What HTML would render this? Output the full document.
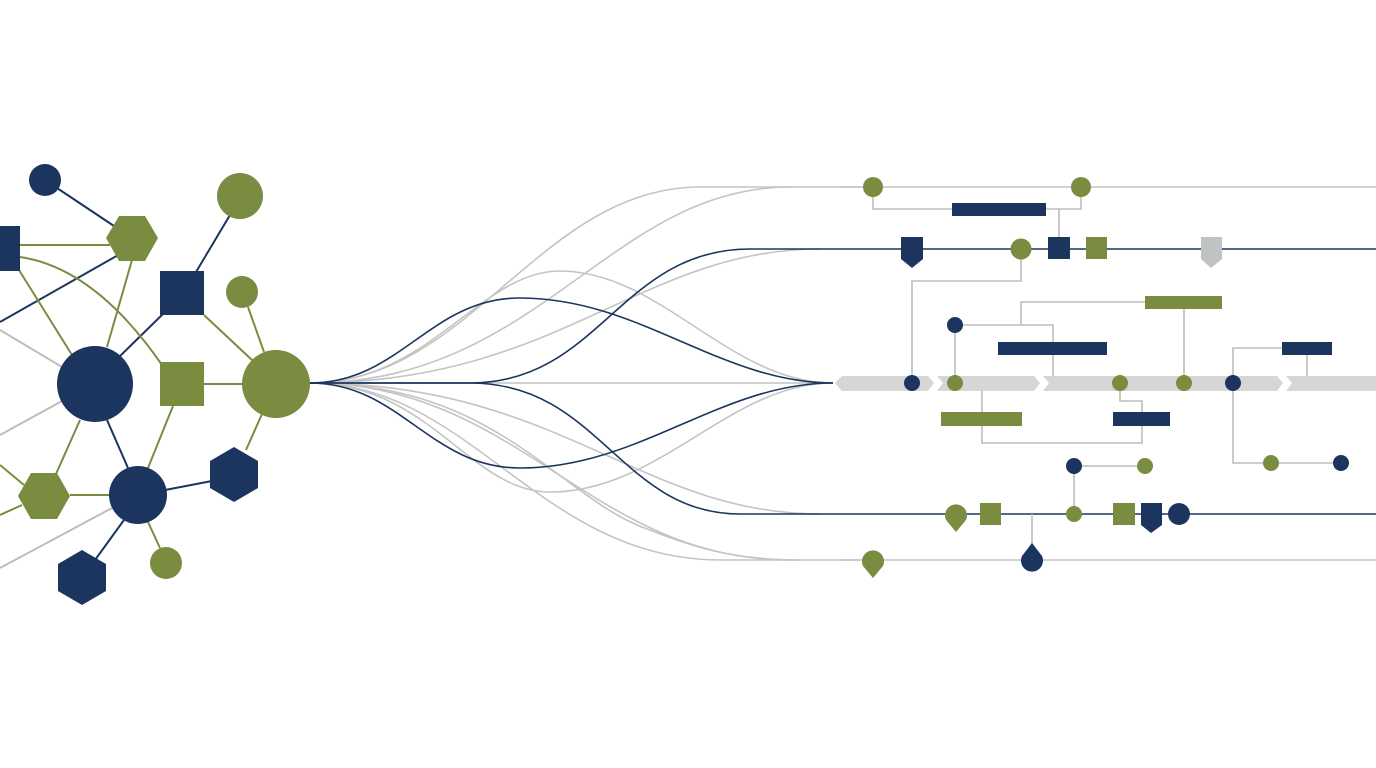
<!DOCTYPE html>
<html><head><meta charset="utf-8"><style>html,body{margin:0;padding:0;background:#fff;}svg{display:block}</style></head>
<body>
<svg width="1376" height="768" viewBox="0 0 1376 768" xmlns="http://www.w3.org/2000/svg">
<rect width="1376" height="768" fill="#fff"/>
<g fill="none" stroke-width="2">
<line x1="0" y1="330" x2="62" y2="367" stroke="#bdbdbd"/>
<line x1="0" y1="435" x2="62" y2="401" stroke="#bdbdbd"/>
<line x1="0" y1="568" x2="112" y2="508" stroke="#bdbdbd"/>
<line x1="45" y1="180" x2="120" y2="230" stroke="#1c355e"/>
<line x1="0" y1="322" x2="120" y2="254" stroke="#1c355e"/>
<line x1="196" y1="272" x2="230" y2="215" stroke="#1c355e"/>
<line x1="165" y1="312" x2="118" y2="358" stroke="#1c355e"/>
<line x1="107" y1="420" x2="128" y2="468" stroke="#1c355e"/>
<line x1="165" y1="490" x2="212" y2="481" stroke="#1c355e"/>
<line x1="124" y1="520" x2="95" y2="560" stroke="#1c355e"/>
<line x1="20" y1="245" x2="110" y2="245" stroke="#7a8c3f"/>
<line x1="14" y1="262" x2="72" y2="355" stroke="#7a8c3f"/>
<line x1="132" y1="260" x2="107" y2="347" stroke="#7a8c3f"/>
<path d="M20,257 Q95,268 162,365" stroke="#7a8c3f"/>
<line x1="204" y1="315" x2="252" y2="360" stroke="#7a8c3f"/>
<line x1="248" y1="307" x2="264" y2="352" stroke="#7a8c3f"/>
<line x1="204" y1="384" x2="245" y2="384" stroke="#7a8c3f"/>
<line x1="262" y1="414" x2="246" y2="450" stroke="#7a8c3f"/>
<line x1="173" y1="406" x2="148" y2="468" stroke="#7a8c3f"/>
<line x1="80" y1="420" x2="56" y2="474" stroke="#7a8c3f"/>
<line x1="70" y1="495" x2="110" y2="495" stroke="#7a8c3f"/>
<line x1="0" y1="465" x2="24" y2="485" stroke="#7a8c3f"/>
<line x1="0" y1="515" x2="22" y2="505" stroke="#7a8c3f"/>
<line x1="148" y1="522" x2="160" y2="548" stroke="#7a8c3f"/>
</g>
<circle cx="45" cy="180" r="16" fill="#1c355e"/>
<polygon points="106,238 119,216 145,216 158,238 145,261 119,261" fill="#7a8c3f"/>
<rect x="0" y="226" width="20" height="45" fill="#1c355e"/>
<circle cx="240" cy="196" r="23" fill="#7a8c3f"/>
<rect x="160" y="271" width="44" height="44" fill="#1c355e"/>
<circle cx="242" cy="292" r="16" fill="#7a8c3f"/>
<circle cx="95" cy="384" r="38" fill="#1c355e"/>
<rect x="160" y="362" width="44" height="44" fill="#7a8c3f"/>
<circle cx="276" cy="384" r="34" fill="#7a8c3f"/>
<polygon points="234,447 258,461 258,488 234,502 210,488 210,461" fill="#1c355e"/>
<circle cx="138" cy="495" r="29" fill="#1c355e"/>
<polygon points="18,496 31,473 57,473 70,496 57,519 31,519" fill="#7a8c3f"/>
<polygon points="82,550 106,564 106,591 82,605 58,591 58,564" fill="#1c355e"/>
<circle cx="166" cy="563" r="16" fill="#7a8c3f"/>
<g fill="none" stroke-width="1.6">
<g stroke="#c4c4c4">
<path d="M310,383 C470,383 540,187 700,187 L860,187"/>
<path d="M310,383 C540,383 610,187 790,187"/>
<path d="M310,383 C560,383 640,249 820,249"/>
<path d="M310,383 C430,383 480,271 560,271 C660,271 730,383 833,383"/>
<path d="M310,383 C430,383 470,492 550,492 C660,492 730,383 833,383"/>
<path d="M310,383 L833,383"/>
<path d="M310,383 C560,383 640,514 820,514"/>
<path d="M310,383 C470,383 540,560 720,560 L860,560"/>
<path d="M310,383 C520,383 590,560 790,560"/>
<path d="M310,383 C500,383 560,500 650,530 C700,550 740,560 800,560"/>
</g>
<g stroke="#1c355e">
<path d="M310,383 C400,383 430,298 520,298 C640,298 720,383 833,383"/>
<path d="M310,383 C400,383 430,468 520,468 C640,468 720,383 833,383"/>
<path d="M310,383 L470,383 C600,383 620,249 750,249 L1376,249"/>
<path d="M310,383 L470,383 C600,383 620,514 740,514 L1376,514"/>
</g>
</g>
<line x1="840" y1="187" x2="1376" y2="187" stroke="#c4c4c4" stroke-width="1.6"/>
<line x1="840" y1="560" x2="1376" y2="560" stroke="#c4c4c4" stroke-width="1.6"/>
<polygon points="835,383 842,376 928,376 934,383 928,391 842,391" fill="#d6d6d6"/>
<polygon points="937,376 1034,376 1040,383 1034,391 937,391 943,383" fill="#d6d6d6"/>
<polygon points="1043,376 1277,376 1283,383 1277,391 1043,391 1049,383" fill="#d6d6d6"/>
<polygon points="1286,376 1376,376 1376,391 1286,391 1292,383" fill="#d6d6d6"/>
<g fill="none" stroke="#bdbdbd" stroke-width="1.6">
<polyline points="873,195 873,209 1081,209 1081,195"/>
<line x1="1059" y1="209" x2="1059" y2="237"/>
<polyline points="1021,259 1021,281 912,281 912,383"/>
<polyline points="1145,302 1021,302 1021,325"/>
<polyline points="955,325 1053,325 1053,376"/>
<line x1="955" y1="325" x2="955" y2="383"/>
<line x1="1184" y1="309" x2="1184" y2="383"/>
<polyline points="982,391 982,443 1142,443 1142,401 1120,401 1120,383"/>
<polyline points="1233,383 1233,463 1341,463"/>
<polyline points="1233,383 1233,348 1282,348"/>
<line x1="1307" y1="355" x2="1307" y2="376"/>
<polyline points="1145,466 1074,466 1074,514"/>
<line x1="1032" y1="514" x2="1032" y2="550"/>
</g>
<circle cx="873" cy="187" r="10" fill="#7a8c3f"/>
<circle cx="1081" cy="187" r="10" fill="#7a8c3f"/>
<rect x="952" y="203" width="94" height="13" fill="#1c355e"/>
<polygon points="901,237 923,237 923,259 912,268 901,259" fill="#1c355e"/>
<circle cx="1021" cy="249" r="10.5" fill="#7a8c3f"/>
<rect x="1048" y="237" width="22" height="22" fill="#1c355e"/>
<rect x="1086" y="237" width="21" height="22" fill="#7a8c3f"/>
<polygon points="1201,237 1222,237 1222,259 1211,268 1201,259" fill="#c0c2c4"/>
<rect x="1145" y="296" width="77" height="13" fill="#7a8c3f"/>
<rect x="998" y="342" width="109" height="13" fill="#1c355e"/>
<rect x="1282" y="342" width="50" height="13" fill="#1c355e"/>
<rect x="941" y="412" width="81" height="14" fill="#7a8c3f"/>
<rect x="1113" y="412" width="57" height="14" fill="#1c355e"/>
<circle cx="955" cy="325" r="8" fill="#1c355e"/>
<circle cx="912" cy="383" r="8" fill="#1c355e"/>
<circle cx="955" cy="383" r="8" fill="#7a8c3f"/>
<circle cx="1120" cy="383" r="8" fill="#7a8c3f"/>
<circle cx="1184" cy="383" r="8" fill="#7a8c3f"/>
<circle cx="1233" cy="383" r="8" fill="#1c355e"/>
<circle cx="1271" cy="463" r="8" fill="#7a8c3f"/>
<circle cx="1341" cy="463" r="8" fill="#1c355e"/>
<circle cx="1074" cy="466" r="8" fill="#1c355e"/>
<circle cx="1145" cy="466" r="8" fill="#7a8c3f"/>
<path d="M956,532 L946,520 A11,11 0 1 1 966,520 Z" fill="#7a8c3f"/>
<rect x="980" y="503" width="21" height="22" fill="#7a8c3f"/>
<circle cx="1074" cy="514" r="8" fill="#7a8c3f"/>
<rect x="1113" y="503" width="22" height="22" fill="#7a8c3f"/>
<polygon points="1141,503 1162,503 1162,525 1151,533 1141,525" fill="#1c355e"/>
<circle cx="1179" cy="514" r="11" fill="#1c355e"/>
<path d="M873,578 L863,566 A11,11 0 1 1 883,566 Z" fill="#7a8c3f"/>
<path d="M1032,543 L1042,556 A11,11 0 1 1 1022,556 Z" fill="#1c355e"/>
</svg>
</body></html>
